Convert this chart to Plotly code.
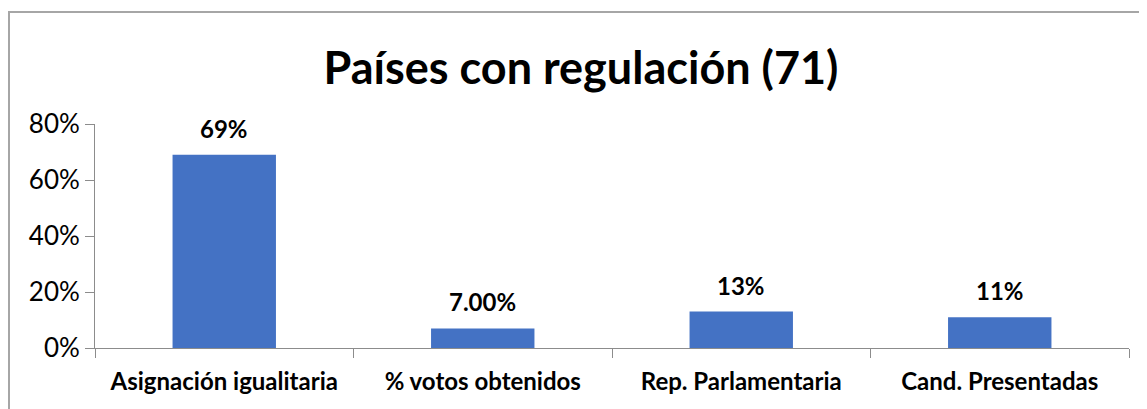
import plotly.graph_objects as go

categories = ["Asignación igualitaria", "% votos obtenidos", "Rep. Parlamentaria", "Cand. Presentadas"]
values = [0.69, 0.07, 0.13, 0.11]
value_labels = ["69%", "7.00%", "13%", "11%"]
y_ticks = [0, 0.2, 0.4, 0.6, 0.8]
y_tick_labels = ["0%", "20%", "40%", "60%", "80%"]
title_text = "Países con regulación (71)"

FONT = "Lato"
AXIS_COLOR = "#8c8c8c"

# page body has an 8px offset; size the figure so it fills the remaining window
W, H = 1139, 401
L, R, T, B = 87, 18, 116, 61
plot_w = W - L - R
plot_h = H - T - B

fig = go.Figure(go.Bar(
    x=categories,
    y=values,
    marker=dict(color="#4472C4", line=dict(width=0)),
))

for cat, val, lab in zip(categories, values, value_labels):
    fig.add_annotation(x=cat, y=val, text=lab, showarrow=False,
                       yanchor="bottom", yshift=10,
                       font=dict(family=FONT, size=24, color="#000000", weight="bold"))

fig.update_layout(
    width=W, height=H,
    margin=dict(l=L, r=R, t=T, b=B),
    paper_bgcolor="white", plot_bgcolor="white",
    bargap=0.6,
    showlegend=False,
    title=dict(text=title_text, x=(581 - 8) / W, xanchor="center", xref="container",
               y=1 - 60 / H, yanchor="middle", yref="container",
               font=dict(family=FONT, size=45, color="#000000", weight="bold")),
    xaxis=dict(
        type="category", showgrid=False, showline=True, linecolor=AXIS_COLOR, linewidth=1,
        ticks="outside", tickson="boundaries", ticklen=9, tickcolor=AXIS_COLOR,
        tickfont=dict(family=FONT, size=24, color="#000000", weight="bold"),
        ticklabelstandoff=12,
        zeroline=False,
    ),
    yaxis=dict(
        range=[0, 0.8], tickvals=y_ticks, ticktext=y_tick_labels,
        showgrid=False, showline=True, linecolor=AXIS_COLOR, linewidth=1,
        ticks="outside", ticklen=9, tickcolor=AXIS_COLOR,
        tickfont=dict(family=FONT, size=26, color="#000000"),
        zeroline=False,
    ),
    shapes=[dict(type="rect", xref="paper", yref="paper",
                 x0=(1 - L) / plot_w, x1=1.2, y0=-0.6, y1=(plot_h + T - 4) / plot_h,
                 line=dict(color="#a6a6a6", width=2), fillcolor="rgba(0,0,0,0)", layer="below")],
)

fig.write_html("out.html")
